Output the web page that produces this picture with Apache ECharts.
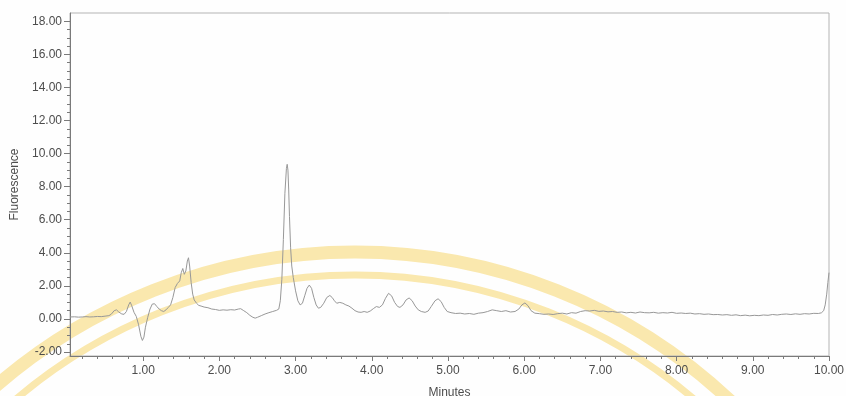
<!DOCTYPE html>
<html>
<head>
<meta charset="utf-8">
<style>
  html, body { margin: 0; padding: 0; background: #fefefe; }
  #chart { width: 846px; height: 396px; }
</style>
<script src="https://cdn.jsdelivr.net/npm/echarts@6/dist/echarts.min.js"></script>
</head>
<body>
<div id="chart"></div>
<script>
// Retention time (minutes) of each sampled detector reading
const minutes = [
  0.04, 0.10, 0.15, 0.20, 0.25, 0.30, 0.35, 0.40, 0.45, 0.50,
  0.55, 0.58, 0.62, 0.65, 0.68, 0.72, 0.75, 0.78, 0.81, 0.83,
  0.85, 0.88, 0.91, 0.94, 0.97, 0.99, 1.01, 1.03, 1.06, 1.09,
  1.12, 1.15, 1.18, 1.21, 1.24, 1.27, 1.30, 1.33, 1.36, 1.39,
  1.42, 1.45, 1.48, 1.50, 1.52, 1.54, 1.56, 1.58, 1.595, 1.61,
  1.63, 1.65, 1.67, 1.70, 1.73, 1.76, 1.80, 1.85, 1.90, 1.95,
  2.00, 2.05, 2.10, 2.15, 2.20, 2.25, 2.28, 2.32, 2.36, 2.40,
  2.44, 2.47, 2.50, 2.55, 2.60, 2.65, 2.70, 2.75, 2.78, 2.80,
  2.82, 2.84, 2.86, 2.88, 2.89, 2.90, 2.91, 2.92, 2.935, 2.95,
  2.97, 3.00, 3.03, 3.06, 3.09, 3.12, 3.15, 3.18, 3.21, 3.24,
  3.27, 3.30, 3.33, 3.37, 3.41, 3.45, 3.48, 3.51, 3.54, 3.58,
  3.62, 3.66, 3.70, 3.74, 3.78, 3.82, 3.86, 3.90, 3.94, 3.98,
  4.02, 4.06, 4.10, 4.14, 4.18, 4.22, 4.26, 4.30, 4.34, 4.37,
  4.41, 4.45, 4.49, 4.53, 4.57, 4.61, 4.65, 4.70, 4.74, 4.78,
  4.83, 4.87, 4.91, 4.95, 4.99, 5.04, 5.10, 5.16, 5.22, 5.28,
  5.34, 5.40, 5.46, 5.52, 5.58, 5.64, 5.70, 5.76, 5.82, 5.88,
  5.93, 5.97, 6.01, 6.05, 6.09, 6.14, 6.20, 6.26, 6.32, 6.38,
  6.44, 6.50, 6.56, 6.62, 6.68, 6.74, 6.80, 6.86, 6.92, 6.98,
  7.04, 7.10, 7.16, 7.22, 7.28, 7.34, 7.40, 7.46, 7.52, 7.58,
  7.64, 7.70, 7.76, 7.82, 7.88, 7.94, 8.00, 8.06, 8.12, 8.18,
  8.24, 8.30, 8.36, 8.42, 8.48, 8.54, 8.60, 8.66, 8.72, 8.78,
  8.84, 8.90, 8.96, 9.02, 9.08, 9.14, 9.20, 9.26, 9.32, 9.38,
  9.44, 9.50, 9.56, 9.62, 9.68, 9.74, 9.80, 9.86, 9.90, 9.93,
  9.95, 9.97, 9.985, 10.00
];

// Fluorescence response at each retention time
const fluorescence = [
  0.12, 0.13, 0.11, 0.12, 0.14, 0.12, 0.13, 0.15, 0.14, 0.17,
  0.20, 0.28, 0.50, 0.55, 0.42, 0.30, 0.28, 0.45, 0.85, 1.02,
  0.80, 0.40, 0.15, -0.35, -1.05, -1.30, -1.10, -0.50, 0.10, 0.60,
  0.90, 0.92, 0.75, 0.60, 0.50, 0.45, 0.55, 0.70, 0.85, 1.30,
  1.90, 2.15, 2.30, 2.80, 3.05, 2.70, 2.90, 3.50, 3.70, 3.20,
  2.20, 1.50, 1.15, 0.95, 0.82, 0.78, 0.72, 0.68, 0.60, 0.57,
  0.52, 0.55, 0.53, 0.56, 0.54, 0.60, 0.62, 0.50, 0.38, 0.22,
  0.10, 0.05, 0.10, 0.20, 0.30, 0.38, 0.45, 0.52, 0.60, 1.10,
  2.40, 4.80, 7.60, 9.10, 9.35, 9.00, 7.80, 6.20, 4.30, 3.20,
  2.50, 1.70, 1.10, 0.85, 0.95, 1.40, 1.85, 2.05, 1.85, 1.30,
  0.85, 0.65, 0.70, 0.95, 1.30, 1.42, 1.30, 1.10, 0.95, 1.00,
  0.95, 0.85, 0.78, 0.65, 0.50, 0.42, 0.40, 0.45, 0.40, 0.48,
  0.62, 0.75, 0.70, 0.85, 1.25, 1.55, 1.40, 1.00, 0.75, 0.70,
  0.85, 1.15, 1.27, 1.10, 0.78, 0.55, 0.45, 0.40, 0.48, 0.75,
  1.10, 1.22, 1.05, 0.70, 0.45, 0.38, 0.33, 0.35, 0.30, 0.33,
  0.28, 0.35, 0.38, 0.45, 0.55, 0.50, 0.45, 0.50, 0.42, 0.45,
  0.60, 0.85, 0.97, 0.80, 0.50, 0.35, 0.32, 0.28, 0.30, 0.27,
  0.32, 0.35, 0.30, 0.38, 0.35, 0.45, 0.50, 0.48, 0.52, 0.46,
  0.48, 0.43, 0.45, 0.40, 0.42, 0.37, 0.40, 0.36, 0.42, 0.38,
  0.37, 0.40, 0.35, 0.38, 0.36, 0.40, 0.34, 0.36, 0.33, 0.35,
  0.30, 0.32, 0.28, 0.30, 0.26, 0.27, 0.24, 0.26, 0.22, 0.25,
  0.20, 0.23, 0.19, 0.22, 0.20, 0.24, 0.22, 0.27, 0.24, 0.28,
  0.30, 0.27, 0.31, 0.28, 0.32, 0.30, 0.34, 0.33, 0.37, 0.50,
  0.85, 1.50, 2.20, 2.80
];

// Labelled ticks on each axis
const minuteTicks = [1, 2, 3, 4, 5, 6, 7, 8, 9, 10];
const fluorescenceTicks = [-2, 0, 2, 4, 6, 8, 10, 12, 14, 16, 18];

// Unlabelled minor ticks: every 0.2 min and every 0.5 units
const minuteMinorTicks = [];
for (let i = 1; i < 50; i++) if (i % 5 !== 0) minuteMinorTicks.push(i / 5);
const fluorescenceMinorTicks = [];
for (let v = -2; v <= 18; v += 0.5) if (v % 2 !== 0) fluorescenceMinorTicks.push(v);

const X_MIN = 0.04, X_MAX = 10;
const Y_MIN = -2.24, Y_MAX = 18.5;

const labelFont = { fontFamily: 'Liberation Sans, Arial, sans-serif', fontSize: 12, color: '#4d4d4d' };
const axisColor = '#7a7a7a';
const emblemColor = '#fae8ae';

const chart = echarts.init(document.getElementById('chart'), null, { renderer: 'canvas' });

chart.setOption({
  animation: false,
  backgroundColor: '#fefefe',
  grid: {
    left: 70, right: 17, top: 13, bottom: 40,
    containLabel: false, outerBoundsMode: 'none',
    show: true, borderColor: '#b4b4b4', borderWidth: 1, backgroundColor: 'transparent'
  },
  // faint circular emblem printed behind the trace
  graphic: [
    {
      type: 'arc', z: -10, silent: true,
      shape: { cx: 355, cy: 800, r: 548, startAngle: Math.PI, endAngle: 2 * Math.PI },
      style: { stroke: emblemColor, lineWidth: 13, fill: null }
    },
    {
      type: 'arc', z: -10, silent: true,
      shape: { cx: 355, cy: 800, r: 525, startAngle: Math.PI, endAngle: 2 * Math.PI },
      style: { stroke: emblemColor, lineWidth: 7, fill: null }
    }
  ],
  xAxis: [
    {
      type: 'value', min: X_MIN, max: X_MAX, position: 'bottom',
      name: 'Minutes', nameLocation: 'middle', nameGap: 31,
      nameTextStyle: labelFont,
      axisLine: { show: true, onZero: false, lineStyle: { color: axisColor, width: 1 } },
      axisTick: { show: true, customValues: minuteTicks, length: 5, lineStyle: { color: axisColor } },
      axisLabel: {
        show: true, customValues: minuteTicks, margin: 9,
        formatter: v => Number(v).toFixed(2), ...labelFont
      },
      splitLine: { show: false }
    },
    {
      type: 'value', min: X_MIN, max: X_MAX, position: 'bottom',
      axisLine: { show: false, onZero: false },
      axisTick: { show: true, customValues: minuteMinorTicks, length: 3, lineStyle: { color: axisColor } },
      axisLabel: { show: false },
      splitLine: { show: false }
    }
  ],
  yAxis: [
    {
      type: 'value', min: Y_MIN, max: Y_MAX, position: 'left',
      name: 'Fluorescence', nameLocation: 'middle', nameGap: 40,
      nameTextStyle: labelFont,
      axisLine: { show: true, onZero: false, lineStyle: { color: axisColor, width: 1 } },
      axisTick: { show: true, customValues: fluorescenceTicks, length: 6, lineStyle: { color: axisColor } },
      axisLabel: {
        show: true, customValues: fluorescenceTicks, margin: 8,
        formatter: v => Number(v).toFixed(2), ...labelFont
      },
      splitLine: { show: false }
    },
    {
      type: 'value', min: Y_MIN, max: Y_MAX, position: 'left',
      axisLine: { show: false, onZero: false },
      axisTick: { show: true, customValues: fluorescenceMinorTicks, length: 3, lineStyle: { color: axisColor } },
      axisLabel: { show: false },
      splitLine: { show: false }
    }
  ],
  series: [
    {
      type: 'line',
      xAxisIndex: 0, yAxisIndex: 0,
      data: minutes.map((t, i) => [t, fluorescence[i]]),
      showSymbol: false,
      smooth: false,
      lineStyle: { color: '#989898', width: 1 },
      z: 5
    }
  ]
});
</script>
</body>
</html>
